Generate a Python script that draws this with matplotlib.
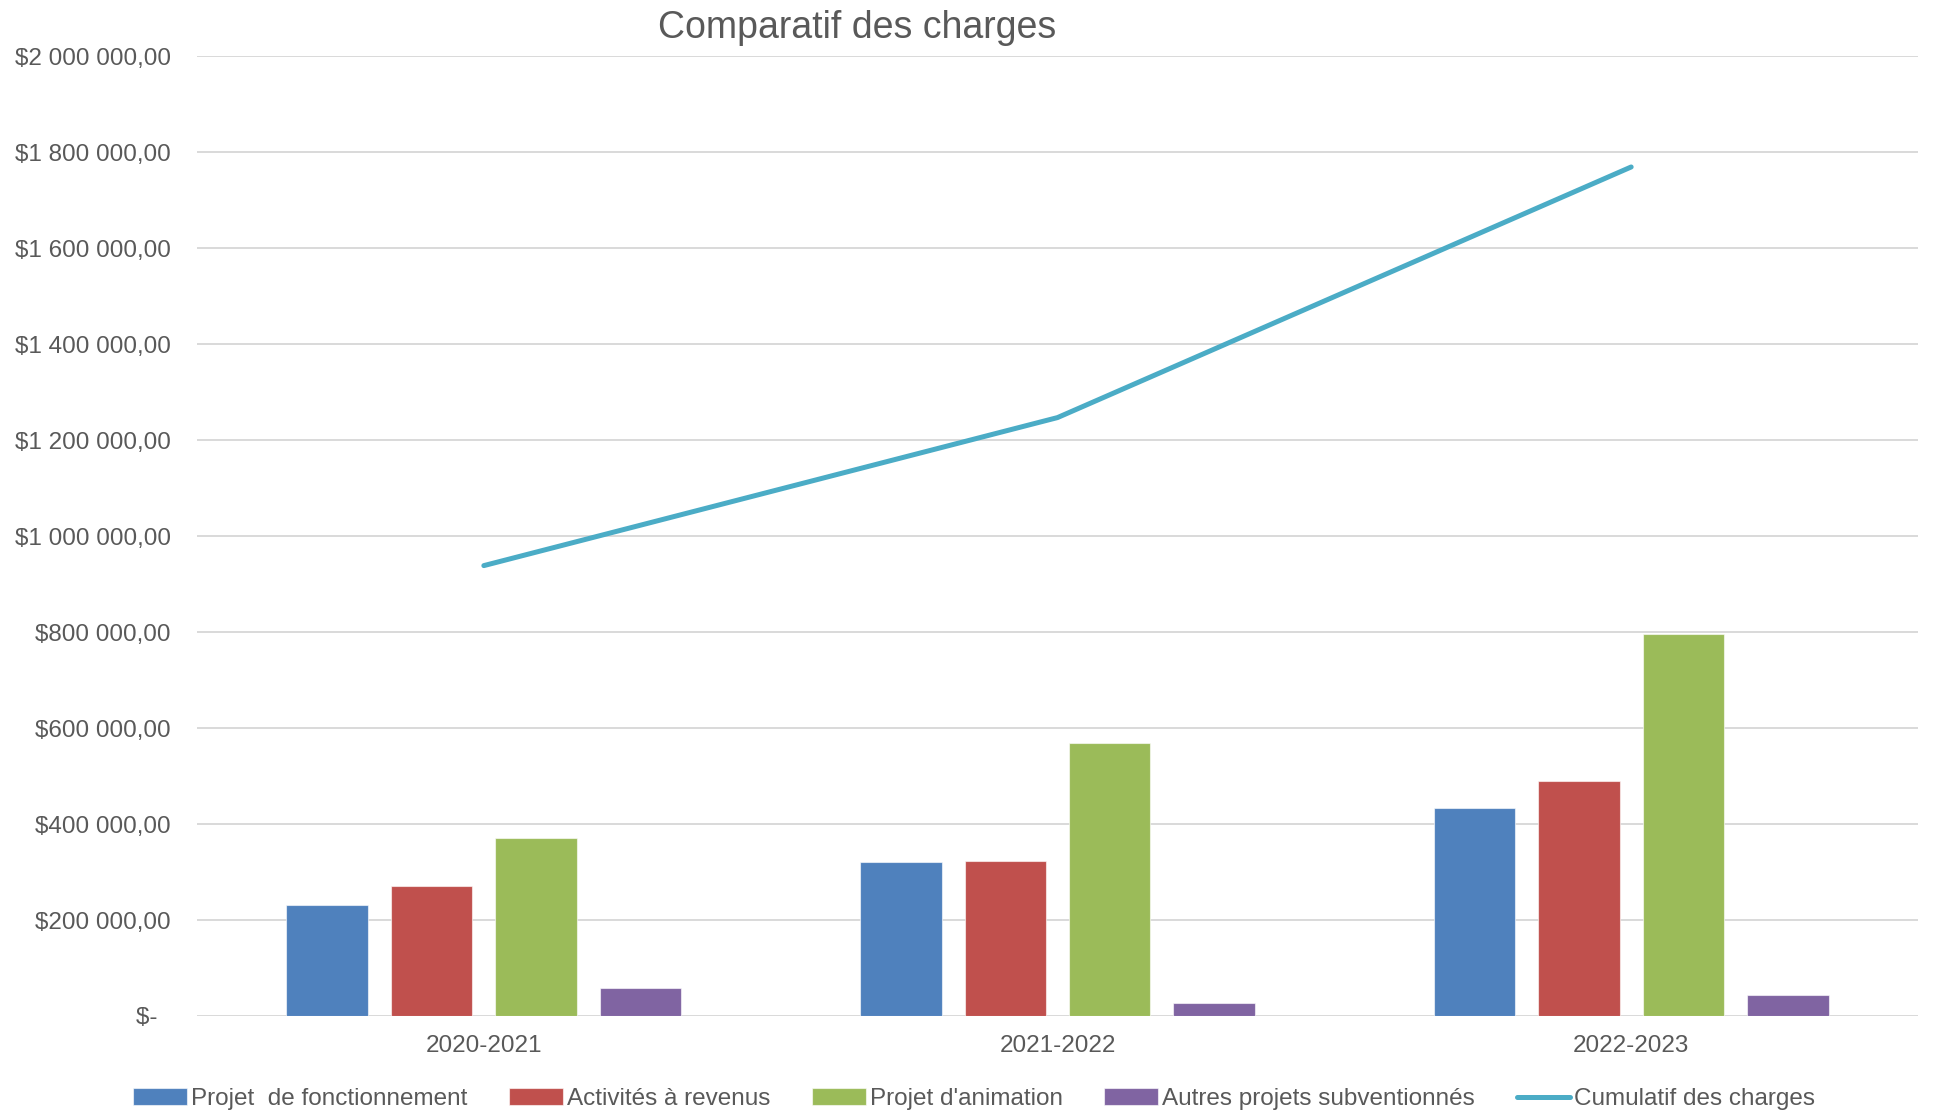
import matplotlib
matplotlib.use("Agg")
import matplotlib.pyplot as plt
from matplotlib.ticker import FuncFormatter, MultipleLocator
import numpy as np

plt.rcParams['font.family'] = ['Liberation Sans', 'DejaVu Sans']

categories = ["2020-2021", "2021-2022", "2022-2023"]
series_names = ["Projet  de fonctionnement", "Activités à revenus",
                "Projet d'animation", "Autres projets subventionnés"]
fonctionnement = [230600, 320200, 432700]
activites = [271700, 323700, 489000]
animation = [371700, 568100, 796700]
autres = [59200, 27900, 44600]
cumulatif = [938300, 1246700, 1768800]
line_name = "Cumulatif des charges"

colors = ["#4F81BD", "#C0504D", "#9BBB59", "#8064A2"]
line_color = "#4BACC6"
text_color = "#595959"
grid_color = "#D9D9D9"

fig = plt.figure(figsize=(19.39, 11.13), dpi=100)
ax = fig.add_axes([197/1939, 1-1016/1113, (1918-197)/1939, (1016-56)/1113])

x = np.arange(len(categories))
width = 0.142
step = 0.182
all_series = [fonctionnement, activites, animation, autres]
handles = []
for i, (vals, name, c) in enumerate(zip(all_series, series_names, colors)):
    off = (i - 1.5) * step
    b = ax.bar(x + off, vals, width, color=c, edgecolor=(1, 1, 1, 0.6),
               linewidth=0.8, label=name, zorder=3)
    handles.append(b)
ln, = ax.plot(x, cumulatif, color=line_color, linewidth=3.6,
              solid_capstyle='round', label=line_name, zorder=4)
handles.append(ln)

ax.set_xlim(-0.5, 2.5)
ax.set_ylim(0, 2000000)
ax.yaxis.set_major_locator(MultipleLocator(200000))

def fmt(v, pos):
    if abs(v) < 1:
        return "$-  "
    s = f"{int(round(v)):,}".replace(",", " ")
    return f"${s},00"

ax.yaxis.set_major_formatter(FuncFormatter(fmt))
ax.set_xticks(x)
ax.set_xticklabels(categories)
ax.grid(axis='y', color=grid_color, linewidth=1.4, zorder=0)
ax.set_axisbelow(True)
for s in ax.spines.values():
    s.set_visible(False)
ax.tick_params(axis='both', length=0, labelsize=17.5, labelcolor=text_color)
ax.tick_params(axis='y', pad=19)
ax.tick_params(axis='x', pad=14)

fig.text(857/1939, 1-28/1113, "Comparatif des charges", ha='center', va='center',
         fontsize=27, color=text_color)

leg = fig.legend(handles=handles, labels=series_names + [line_name],
                 loc='center', bbox_to_anchor=(0.5025, 1-1099/1113), ncol=5,
                 frameon=False, fontsize=17.5, handlelength=2.2, handleheight=0.65,
                 handletextpad=0.17, columnspacing=1.72, borderpad=0, borderaxespad=0)
for t in leg.get_texts():
    t.set_color(text_color)

fig.savefig("out.png", dpi=100)
